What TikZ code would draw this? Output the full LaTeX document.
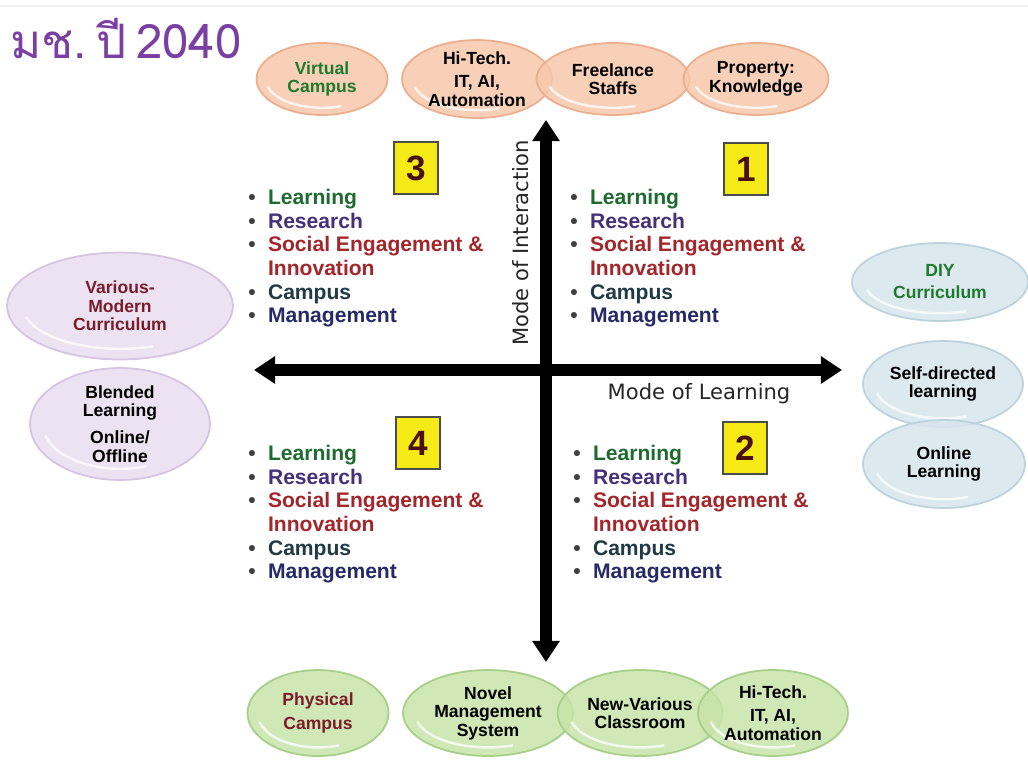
\documentclass[tikz,border=0pt]{standalone}
\usepackage{xcolor}
\usepackage{fontspec}
\setmainfont{Liberation Sans}
\newfontfamily\thaifont[Script=Thai]{Loma}
\newfontfamily\axisfont{DejaVu Sans}
\usepackage{tikz}
\usetikzlibrary{positioning}
\usetikzlibrary{arrows.meta, shapes.geometric, calc}

\definecolor{peach}{HTML}{F7C8AC}
\definecolor{peachline}{HTML}{EDAE8E}
\definecolor{lav}{HTML}{E9DDF0}
\definecolor{lavline}{HTML}{D6C4E2}
\definecolor{sky}{HTML}{D7E6ED}
\definecolor{skyline}{HTML}{BCD3DE}
\definecolor{lime}{HTML}{C8E4AA}
\definecolor{limeline}{HTML}{A6CF87}
\definecolor{lrncol}{HTML}{1E6B30}
\definecolor{rescol}{HTML}{45307A}
\definecolor{soccol}{HTML}{A3262A}
\definecolor{campcol}{HTML}{1F3A48}
\definecolor{mgtcol}{HTML}{262A66}
\definecolor{vgreen}{HTML}{1F7A2E}
\definecolor{dred}{HTML}{7A1C2A}
\definecolor{numcol}{HTML}{4A1010}
\definecolor{ttl}{HTML}{7B3FA3}
\definecolor{yel}{HTML}{F5EA16}

\newcommand{\qlist}{%
\begin{tabular}{@{}l@{\hspace{7pt}}l@{}}
\textcolor{darkgray}{\textbullet} & \color{lrncol}Learning\\
\textcolor{darkgray}{\textbullet} & \color{rescol}Research\\
\textcolor{darkgray}{\textbullet} & \color{soccol}Social Engagement \&\\
 & \color{soccol}Innovation\\
\textcolor{darkgray}{\textbullet} & \color{campcol}Campus\\
\textcolor{darkgray}{\textbullet} & \color{mgtcol}Management
\end{tabular}}

\tikzset{gloss/.style={path picture={
  \draw[white, line width=1.4pt, opacity=0.75] let \p1=(path picture bounding box.south west), \p2=(path picture bounding box.north east) in
  ({0.5*(\x1+\x2)+0.43*(\x2-\x1)*cos(195)}, {0.5*(\y1+\y2)+0.40*(\y2-\y1)*sin(195)})
  arc[start angle=195, end angle=290, x radius={0.43*(\x2-\x1)}, y radius={0.40*(\y2-\y1)}];
}}}

\begin{document}
\begin{tikzpicture}[x=0.02cm, y=-0.02cm]
\tikzstyle{ell} = [ellipse, inner sep=0pt, align=center, gloss, fill opacity=0.85, text opacity=1, line width=1pt, font=\fontsize{10}{10.5}\selectfont\bfseries]
\tikzstyle{topell} = [ell, fill=peach, draw=peachline, minimum height=1.44cm]
\tikzstyle{botell} = [ell, fill=lime, draw=limeline, minimum height=1.72cm]
\tikzstyle{lftell} = [ell, fill=lav, draw=lavline]
\tikzstyle{rgtell} = [ell, fill=sky, draw=skyline]
\tikzstyle{numbox} = [draw=black!70, line width=0.8pt, fill=yel, minimum width=0.88cm, minimum height=1.04cm, text=numcol, font=\fontsize{20}{20}\selectfont\bfseries]
\tikzstyle{qbox} = [anchor=north west, inner sep=0pt, font=\fontsize{12}{13.4}\selectfont\bfseries]
\tikzstyle{axlabel} = [font=\axisfont\fontsize{12}{12}\selectfont, text=black!85]
\tikzstyle{axis} = [line width=7pt, {Triangle[length=12pt, width=15pt]}-{Triangle[length=12pt, width=15pt]}]

\useasboundingbox (0,0) rectangle (1028,762);
\fill[white] (0,0) rectangle (1028,762);
\draw[black!6, line width=1pt] (0,6) -- (1028,6);

\node[anchor=base west, inner sep=0pt, text=ttl, font=\thaifont\fontsize{27}{27}\selectfont] (title) at (10,58) {มช.\hspace{0.2em}ปี\hspace{0.2em}2040};

% top row
\node[topell, minimum width=2.62cm, text=vgreen] (vc) at (322,79) {Virtual\\Campus};
\node[topell, minimum width=3.0cm] (ht1) at (477,79) {Hi-Tech.\\[3pt]IT, AI,\\Automation};
\node[topell, minimum width=3.06cm] (fs) at (613,79) {Freelance\\Staffs};
\node[topell, minimum width=2.9cm] (pk) at (756,79) {Property:\\Knowledge};

% left side
\node[lftell, minimum width=4.52cm, minimum height=2.14cm, text=dred] (vmc) at (120,306) {Various-\\Modern\\Curriculum};
\node[lftell, minimum width=3.6cm, minimum height=2.24cm] (bl) at (120,424) {Blended\\Learning\\[5pt]Online/\\Offline};

% right side
\node[rgtell, minimum width=3.52cm, minimum height=1.56cm, text=vgreen] (diy) at (940,282) {DIY\\[2pt]Curriculum};
\node[rgtell, minimum width=3.2cm, minimum height=1.72cm] (sdl) at (943,384) {Self-directed\\learning};
\node[rgtell, minimum width=3.24cm, minimum height=1.76cm] (ol) at (944,464) {Online\\Learning};

% bottom row
\node[botell, minimum width=2.82cm, text=dred] (pc) at (318,713) {Physical\\[3pt]Campus};
\node[botell, minimum width=3.4cm] (nms) at (488,713) {Novel\\Management\\System};
\node[botell, minimum width=3.3cm] (nvc) at (640,713) {New-Various\\Classroom};
\node[botell, minimum width=3.0cm] (ht2) at (773,713) {Hi-Tech.\\[3pt]IT, AI,\\Automation};

% axes
\coordinate (o) at (546,370);
\coordinate (ytop) at (546,120);
\coordinate (ybot) at (546,662);
\coordinate (xlft) at (254,370);
\coordinate (xrgt) at (842,370);
\draw[axis] (xlft) -- (xrgt);
\draw[axis] (ybot) -- (ytop);
\node[axlabel, rotate=90] (interact) at (521,243) {Mode of Interaction};
\node[axlabel] (learn) at (699,394) {Mode of Learning};

% quadrants
\node[numbox] (n3) at (416,168) {3};
\node[numbox] (n1) at (746,169) {1};
\node[numbox] (n4) at (418,443) {4};
\node[numbox] (n2) at (745,448) {2};
\node[qbox] (q3) at (248,188) {\qlist};
\node[qbox] (q1) at (570,188) {\qlist};
\node[qbox] (q4) at (248,444) {\qlist};
\node[qbox] (q2) at (573,444) {\qlist};
\end{tikzpicture}
\end{document}
